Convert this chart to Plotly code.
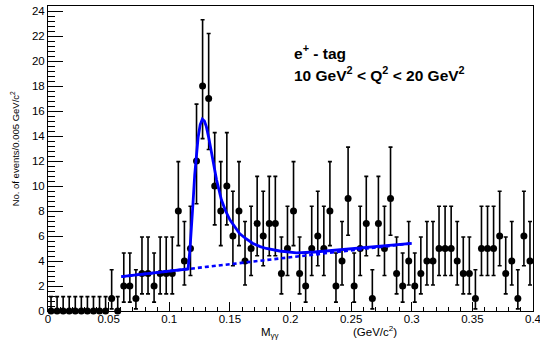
import plotly.graph_objects as go

# ---------------- data ----------------
BIN_WIDTH = 0.005
counts = [0, 0, 0, 0, 0, 0, 0, 0, 0, 0,
          1, 0, 2, 2, 1, 3, 3, 2, 3, 3,
          3, 8, 4, 5, 12, 18, 17, 10, 8, 10,
          6, 8, 4, 5, 7, 6, 7, 7, 3, 5,
          8, 3, 2, 5, 6, 5, 8, 2, 4, 9,
          2, 5, 7, 1, 7, 5, 9, 3, 2, 4,
          2, 3, 4, 4, 5, 5, 5, 4, 3, 3,
          1, 5, 5, 5, 6, 3, 4, 1, 6, 4]

# 68% Poisson intervals (as drawn by RooFit) for each observed count
poisson_n = [0, 1, 2, 3, 4, 5, 6, 7, 8, 9, 10, 12, 17, 18]
poisson_lo = [0.0, 0.173, 0.708, 1.367, 2.086, 2.840, 3.620, 4.419, 5.232, 6.057, 6.891, 8.585, 12.92, 13.79]
poisson_hi = [1.148, 3.300, 4.638, 5.918, 7.163, 8.382, 9.584, 10.77, 11.95, 13.11, 14.27, 16.55, 22.20, 23.30]

# fitted total curve
fit_x = [0.0605, 0.1155, 0.1170, 0.1183, 0.1197, 0.1210, 0.1224, 0.1238, 0.1255, 0.1273,
         0.1290, 0.1306, 0.1327, 0.1348, 0.1370, 0.1390, 0.1430, 0.1465, 0.1500, 0.1540,
         0.1580, 0.1630, 0.1690, 0.1750, 0.1800, 0.1910, 0.2050, 0.2200, 0.2400, 0.2600,
         0.2800, 0.3000]
fit_y = [2.75, 3.36, 4.8, 6.5, 8.8, 10.9, 12.6, 13.9, 14.9, 15.35,
         15.2, 14.75, 13.8, 12.6, 11.5, 10.5, 8.9, 8.0, 7.3, 6.7,
         6.2, 5.8, 5.4, 5.15, 5.0, 4.8, 4.65, 4.72, 4.89, 5.06,
         5.24, 5.41]

# background component (straight line)
bkg_x = [0.0605, 0.3000]
bkg_y = [2.75, 5.41]

# ---------------- derived ----------------
centers = [BIN_WIDTH * (i + 0.5) for i in range(len(counts))]
lo_map = dict(zip(poisson_n, poisson_lo))
hi_map = dict(zip(poisson_n, poisson_hi))
err_minus = [c - lo_map[c] for c in counts]
err_plus = [hi_map[c] - c for c in counts]

FONT = "Liberation Sans, Arial, Helvetica, sans-serif"

fig = go.Figure()

fig.add_trace(go.Scatter(
    x=centers, y=counts, mode="markers",
    marker=dict(color="black", size=7, symbol="circle"),
    error_y=dict(type="data", symmetric=False, array=err_plus, arrayminus=err_minus,
                 color="black", thickness=1.6, width=2),
    showlegend=False, cliponaxis=False,
))

fig.add_trace(go.Scatter(
    x=bkg_x, y=bkg_y, mode="lines",
    line=dict(color="#0000ff", width=2.6, dash="4px,3px"),
    showlegend=False,
))

fig.add_trace(go.Scatter(
    x=fit_x, y=fit_y, mode="lines",
    line=dict(color="#0000ff", width=2.8),
    showlegend=False,
))

fig.update_layout(
    width=540, height=345,
    margin=dict(l=48, r=7, t=6, b=34, autoexpand=False),
    paper_bgcolor="white", plot_bgcolor="white",
    font=dict(family=FONT, size=11, color="black"),
    xaxis=dict(
        range=[0, 0.4], tickvals=[0, 0.05, 0.1, 0.15, 0.2, 0.25, 0.3, 0.35, 0.4],
        ticktext=["0", "0.05", "0.1", "0.15", "0.2", "0.25", "0.3", "0.35", "0.4"],
        ticks="inside", ticklen=9, tickwidth=1, tickcolor="black",
        minor=dict(dtick=0.01, tick0=0, ticks="inside", ticklen=4.5, tickwidth=1, tickcolor="black"),
        showline=True, linecolor="black", linewidth=1, mirror=True,
        showgrid=False, zeroline=False, tickfont=dict(size=11.5), automargin=False,
        ticklabeloverflow="allow", ticklabelstandoff=-3,
    ),
    yaxis=dict(
        range=[0, 24.4], tickvals=list(range(0, 25, 2)),
        ticks="inside", ticklen=14.5, tickwidth=1, tickcolor="black",
        minor=dict(dtick=0.4, tick0=0, ticks="inside", ticklen=7, tickwidth=1, tickcolor="black"),
        showline=True, linecolor="black", linewidth=1, mirror=True,
        showgrid=False, zeroline=False, tickfont=dict(size=11.5), automargin=False,
        ticklabeloverflow="allow",
    ),
    annotations=[
        dict(text="M<sub>γγ</sub>", xref="x", yref="paper", x=0.183, y=-0.072,
             xanchor="center", yanchor="middle", showarrow=False, font=dict(size=11.5)),
        dict(text="(GeV/c<sup>2</sup>)", xref="x", yref="paper", x=0.270, y=-0.064,
             xanchor="center", yanchor="middle", showarrow=False, font=dict(size=11.5)),
        dict(text="No. of events/0.005 GeV/c<sup>2</sup>", xref="paper", yref="paper",
             x=-0.068, y=0.530, textangle=-90, xanchor="center", yanchor="middle",
             showarrow=False, font=dict(size=9.5)),
        dict(text="<b>e<sup>+</sup> - tag</b>", xref="x", yref="y", x=0.201, y=20.7,
             xanchor="left", yanchor="middle", showarrow=False, font=dict(size=15.5)),
        dict(text="<b>10 GeV<sup>2</sup> &lt; Q<sup>2</sup> &lt; 20 GeV<sup>2</sup></b>",
             xref="x", yref="y", x=0.201, y=19.0,
             xanchor="left", yanchor="middle", showarrow=False, font=dict(size=15.5)),
    ],
)

fig.write_html("out.html",
               config={"displayModeBar": False},
               post_script=("document.documentElement.style.overflow='hidden';"
                            "document.body.style.margin='0px';"
                            "document.body.style.overflow='hidden';"))
